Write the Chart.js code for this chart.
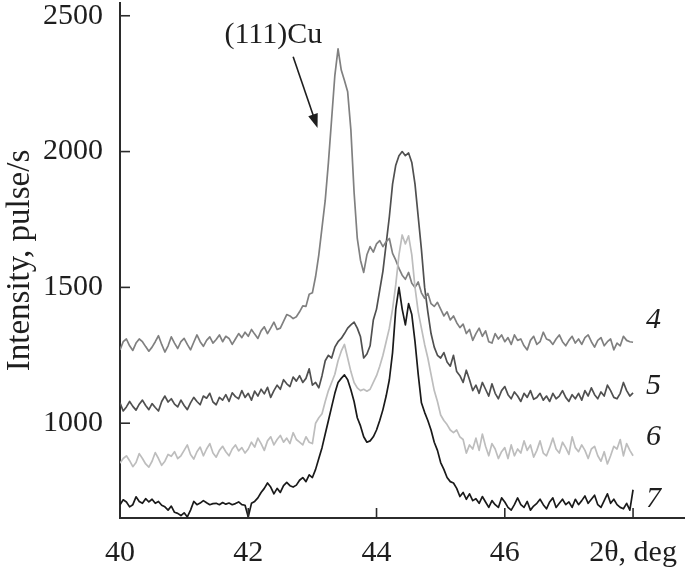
<!DOCTYPE html>
<html><head><meta charset="utf-8">
<script src="https://cdn.jsdelivr.net/npm/chart.js@4.4.0/dist/chart.umd.min.js"></script>
<style>html,body{margin:0;padding:0;background:#fff}#wrap{width:685px;height:568px}</style>
</head><body><div id="wrap"><canvas id="c" width="685" height="568"></canvas></div>
<script>
// 2θ grid (deg): 40.00 ... 48.00, step 0.05
const angleStart = 40, angleStep = 0.05, pointCount = 161;
const angles = [];
for (let i = 0; i < pointCount; i++) angles.push(+(angleStart + i * angleStep).toFixed(2));

const curve4 = [1270,1300,1310,1285,1268,1295,1310,1300,1282,1265,
1280,1300,1322,1290,1262,1285,1318,1295,1275,1300,
1312,1290,1270,1298,1325,1300,1283,1305,1318,1295,
1308,1325,1300,1320,1312,1290,1310,1330,1315,1335,
1320,1345,1328,1312,1340,1355,1330,1350,1372,1345,
1350,1375,1400,1395,1385,1392,1410,1432,1430,1475,
1480,1540,1620,1720,1820,1960,2120,2280,2378,2300,
2262,2220,2080,1850,1680,1600,1555,1620,1650,1630,
1660,1672,1650,1668,1680,1625,1600,1570,1545,1530,
1555,1515,1500,1520,1480,1460,1478,1440,1430,1445,
1420,1395,1410,1380,1395,1370,1352,1365,1330,1345,
1305,1330,1350,1320,1340,1300,1295,1330,1310,1325,
1300,1315,1290,1325,1305,1310,1285,1270,1305,1320,
1290,1300,1335,1310,1305,1290,1310,1325,1300,1285,
1305,1320,1295,1310,1290,1315,1325,1300,1280,1305,
1315,1285,1300,1310,1270,1295,1285,1320,1305,1300,
1298];

const curve5 = [1075,1045,1060,1080,1062,1048,1070,1085,1065,1050,
1072,1058,1045,1080,1100,1078,1090,1070,1060,1085,
1065,1050,1075,1095,1080,1068,1100,1092,1110,1078,
1068,1095,1085,1105,1080,1112,1098,1090,1120,1095,
1110,1085,1118,1100,1125,1108,1132,1095,1120,1140,
1125,1160,1145,1135,1170,1155,1175,1150,1165,1200,
1140,1150,1130,1175,1230,1250,1240,1280,1300,1312,
1330,1350,1362,1372,1350,1318,1240,1255,1285,1380,
1420,1490,1560,1660,1760,1880,1950,1985,2000,1985,
1995,1960,1880,1760,1640,1500,1410,1330,1280,1250,
1240,1260,1225,1210,1250,1190,1175,1150,1195,1160,
1120,1140,1110,1150,1125,1100,1145,1110,1090,1120,
1135,1105,1090,1115,1100,1080,1110,1095,1120,1088,
1095,1110,1085,1100,1080,1110,1090,1100,1120,1095,
1080,1105,1090,1110,1085,1120,1100,1130,1105,1090,
1115,1100,1140,1120,1095,1090,1110,1150,1120,1100,
1112];

const curve6 = [853,870,880,862,840,855,888,870,850,838,
860,892,870,845,860,885,878,895,870,880,
900,920,885,868,895,912,880,905,925,890,
875,900,915,895,880,905,920,898,910,890,
905,930,912,945,925,900,935,950,920,940,
955,930,945,925,965,940,930,920,950,930,
925,1000,1020,1035,1080,1120,1150,1180,1230,1265,
1290,1240,1190,1150,1130,1120,1125,1118,1125,1150,
1175,1210,1250,1300,1350,1420,1510,1620,1693,1660,
1690,1620,1500,1410,1350,1290,1240,1180,1120,1080,
1030,1010,995,975,965,975,950,940,890,920,
905,945,900,960,915,880,925,905,870,895,
910,870,920,880,905,890,935,900,920,875,
900,935,890,880,910,945,905,890,930,910,
885,950,910,895,920,900,870,905,915,880,
860,895,850,880,915,905,940,880,925,900,
880];

const curve7 = [700,718,710,692,700,729,712,705,722,710,
720,705,712,698,692,680,695,672,668,660,
670,655,680,712,700,706,715,707,700,704,
705,700,708,702,706,700,704,710,700,698,
655,705,712,725,745,760,780,765,740,760,
745,770,782,770,765,772,790,800,785,810,
800,830,870,910,960,1010,1060,1110,1150,1165,
1178,1160,1123,1080,1020,990,950,930,935,950,
975,1010,1050,1100,1160,1260,1420,1500,1420,1362,
1440,1400,1300,1180,1075,1040,1010,975,930,900,
855,830,800,785,780,760,730,745,720,740,
715,722,705,730,710,690,715,700,690,725,
710,690,680,700,725,700,690,712,680,695,
705,720,700,685,710,725,690,705,720,700,
710,690,720,700,715,732,705,720,735,700,
690,715,740,705,720,700,690,685,705,680,
755];

const curveNames = ['4','5','6','7'];
const xTicks = [40, 42, 44, 46, 48];
const xTickLabels = ['40', '42', '44', '46', '2θ, deg'];
const yTicks = [1000, 1500, 2000, 2500];
const peakLabel = '(111)Cu';
const yTitle = 'Intensity, pulse/s';

function pts(arr){ return arr.map((v,i)=>({x: angles[i], y: v})); }

const SERIF = '"Liberation Serif", "Times New Roman", serif';
const AXIS = '#2b2b2b';

const decor = {
  id: 'decor',
  afterDraw(chart){
    const {ctx, scales:{x, y}} = chart;
    ctx.save();
    ctx.strokeStyle = AXIS; ctx.lineWidth = 1.6;
    xTicks.forEach(v => {
      const px = x.getPixelForValue(v);
      ctx.beginPath(); ctx.moveTo(px, y.bottom); ctx.lineTo(px, y.bottom - 10); ctx.stroke();
    });
    yTicks.forEach(v => {
      const py = y.getPixelForValue(v);
      ctx.beginPath(); ctx.moveTo(x.left, py); ctx.lineTo(x.left + 10, py); ctx.stroke();
    });
    // curve numbers
    ctx.fillStyle = '#1e1e1e';
    ctx.font = 'italic 30px ' + SERIF;
    ctx.textAlign = 'left'; ctx.textBaseline = 'middle';
    const labelY = [1380, 1137, 949, 722];
    curveNames.forEach((n, k) => {
      ctx.fillText(n, x.getPixelForValue(48.2), y.getPixelForValue(labelY[k]));
    });
    // peak annotation
    ctx.font = '30px ' + SERIF;
    ctx.textAlign = 'center';
    ctx.fillText(peakLabel, x.getPixelForValue(42.39), y.getPixelForValue(2430));
    const ax0 = x.getPixelForValue(42.70), ay0 = y.getPixelForValue(2349);
    const ax1 = x.getPixelForValue(43.08), ay1 = y.getPixelForValue(2087);
    ctx.strokeStyle = '#1e1e1e'; ctx.lineWidth = 1.6;
    const ang = Math.atan2(ay1 - ay0, ax1 - ax0);
    ctx.beginPath(); ctx.moveTo(ax0, ay0);
    ctx.lineTo(ax1 - 10*Math.cos(ang), ay1 - 10*Math.sin(ang)); ctx.stroke();
    ctx.beginPath();
    ctx.moveTo(ax1, ay1);
    ctx.lineTo(ax1 - 14*Math.cos(ang) + 5*Math.sin(ang), ay1 - 14*Math.sin(ang) - 5*Math.cos(ang));
    ctx.lineTo(ax1 - 14*Math.cos(ang) - 5*Math.sin(ang), ay1 - 14*Math.sin(ang) + 5*Math.cos(ang));
    ctx.closePath(); ctx.fillStyle = '#1e1e1e'; ctx.fill();
    ctx.restore();
  }
};

const ds = (label, data, color) => ({
  label, data: pts(data), borderColor: color, borderWidth: 1.7,
  pointRadius: 0, tension: 0, fill: false, borderJoinStyle: 'round'
});

new Chart(document.getElementById('c'), {
  type: 'line',
  data: { datasets: [
    ds(curveNames[2], curve6, '#bdbdbd'),
    ds(curveNames[0], curve4, '#808080'),
    ds(curveNames[1], curve5, '#505050'),
    ds(curveNames[3], curve7, '#1a1a1a')
  ]},
  options: {
    responsive: false, animation: false, devicePixelRatio: 1,
    layout: { padding: { top: 3, right: 0, left: 0, bottom: 0 } },
    plugins: { legend: { display: false }, tooltip: { enabled: false } },
    scales: {
      x: {
        type: 'linear', min: 40, max: 48.81,
        afterBuildTicks: s => { s.ticks = xTicks.map(v => ({ value: v })); },
        afterFit: s => { s.height = 50; s.paddingLeft = 0; s.paddingRight = 0; },
        grid: { display: false, drawTicks: false },
        border: { display: true, color: AXIS, width: 2 },
        ticks: {
          autoSkip: false, maxRotation: 0, padding: 17, color: '#1e1e1e',
          font: { family: SERIF, size: 30 },
          callback: v => { const k = xTicks.indexOf(v); return k >= 0 ? xTickLabels[k] : ''; }
        }
      },
      y: {
        type: 'linear', min: 651, max: 2547,
        afterBuildTicks: s => { s.ticks = yTicks.map(v => ({ value: v })); },
        afterFit: s => { s.width = 120; s.paddingTop = 0; s.paddingBottom = 0; },
        grid: { display: false, drawTicks: false },
        border: { display: true, color: AXIS, width: 2 },
        ticks: { padding: 17, color: '#1e1e1e', font: { family: SERIF, size: 30 },
          callback: v => String(v) },
        title: { display: true, text: yTitle, color: '#1e1e1e',
          font: { family: SERIF, size: 33 }, padding: { top: 1, bottom: 0 } }
      }
    }
  },
  plugins: [decor]
});
</script>
</body></html>
